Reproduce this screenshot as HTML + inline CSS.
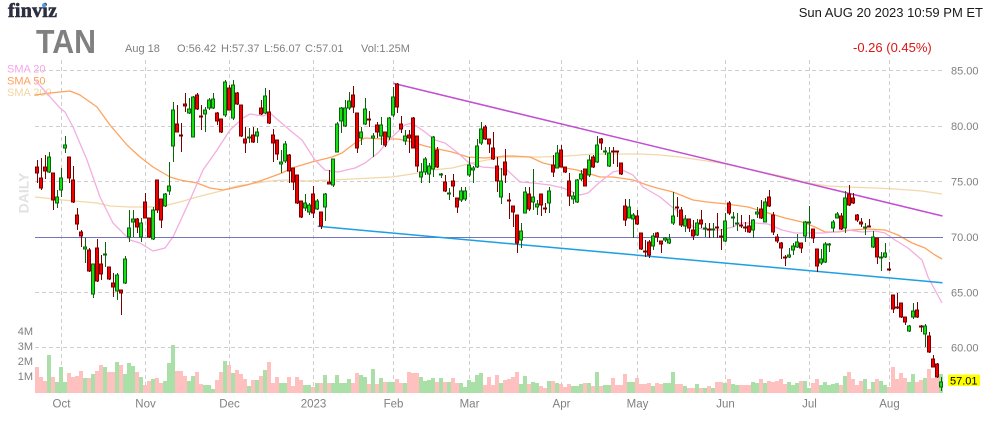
<!DOCTYPE html>
<html><head><meta charset="utf-8"><style>
html,body{margin:0;padding:0;background:#fff;}
body{width:991px;height:422px;overflow:hidden;}
svg{display:block;font-family:"Liberation Sans",Arial,sans-serif;}
</style></head><body>
<svg width="991" height="422" viewBox="0 0 991 422" xmlns="http://www.w3.org/2000/svg">
<rect width="991" height="422" fill="#fff"/>
<!-- header -->
<text x="8" y="17" font-family="'Liberation Serif',serif" font-size="20" font-weight="bold" fill="#2b2f3f" stroke="#2b2f3f" stroke-width="0.6" textLength="49">finviz</text>
<circle cx="44" cy="5.2" r="2" fill="#4a9fe8"/>
<text x="36" y="53" font-size="33" font-weight="bold" fill="#808080" textLength="60" lengthAdjust="spacingAndGlyphs">TAN</text>
<g font-size="11" fill="#7f7f7f">
<text x="125" y="52">Aug 18</text>
<text x="177" y="52">O:56.42</text>
<text x="221" y="52">H:57.37</text>
<text x="264" y="52">L:56.07</text>
<text x="305" y="52">C:57.01</text>
<text x="361" y="52">Vol:1.25M</text>
</g>
<text x="983" y="17" font-size="13" fill="#1a1a1a" text-anchor="end">Sun AUG 20 2023 10:59 PM ET</text>
<text x="853" y="52" font-size="13" fill="#dd1515">-0.26 (0.45%)</text>
<text x="7" y="72.5" font-size="11" fill="#f3a6e6">SMA 20</text>
<text x="7" y="84.5" font-size="11" fill="#ffa05a">SMA 50</text>
<text x="7" y="96" font-size="11" fill="#f2d6a2">SMA 200</text>
<text transform="translate(28.3,193) rotate(-90)" font-size="14" font-weight="bold" fill="#e2e2e2" text-anchor="middle">DAILY</text>

<!-- grid -->
<g stroke="#cfcfcf" stroke-width="1" stroke-dasharray="4,3" fill="none">
<path d="M35 70.5H943M35 126.5H943M35 181.5H943M35 292.5H943M35 347.5H943"/>
<path d="M61.5 60V393M145.5 60V393M229.5 60V393M313.5 60V393M393.5 60V393M469.5 60V393M561.5 60V393M637.5 60V393M725.5 60V393M809.5 60V393M889.5 60V393"/>
</g>

<!-- volume -->
<path fill="#ffc0c0" d="M35 367h4V393h-4zM39 377h4V393h-4zM43 381h4V393h-4zM51 377h4V393h-4zM67 373h4V393h-4zM71 377h4V393h-4zM75 376h4V393h-4zM79 371h4V393h-4zM87 378h4V393h-4zM95 371h4V393h-4zM99 365h4V393h-4zM107 372h4V393h-4zM111 372h4V393h-4zM119 365h4V393h-4zM135 372h4V393h-4zM143 385h4V393h-4zM147 381h4V393h-4zM155 378h4V393h-4zM159 383h4V393h-4zM175 371h4V393h-4zM179 371h4V393h-4zM183 376h4V393h-4zM195 372h4V393h-4zM199 384h4V393h-4zM215 380h4V393h-4zM219 372h4V393h-4zM227 365h4V393h-4zM235 370h4V393h-4zM239 374h4V393h-4zM243 379h4V393h-4zM251 380h4V393h-4zM259 376h4V393h-4zM267 362h4V393h-4zM271 383h4V393h-4zM275 377h4V393h-4zM287 377h4V393h-4zM291 386h4V393h-4zM295 377h4V393h-4zM299 380h4V393h-4zM311 387h4V393h-4zM319 383h4V393h-4zM327 383h4V393h-4zM351 383h4V393h-4zM355 373h4V393h-4zM367 384h4V393h-4zM375 384h4V393h-4zM383 382h4V393h-4zM395 379h4V393h-4zM399 383h4V393h-4zM407 372h4V393h-4zM411 373h4V393h-4zM415 373h4V393h-4zM435 382h4V393h-4zM443 382h4V393h-4zM451 378h4V393h-4zM455 383h4V393h-4zM483 385h4V393h-4zM487 377h4V393h-4zM491 385h4V393h-4zM495 375h4V393h-4zM503 380h4V393h-4zM507 379h4V393h-4zM511 377h4V393h-4zM515 372h4V393h-4zM527 384h4V393h-4zM539 386h4V393h-4zM543 388h4V393h-4zM551 381h4V393h-4zM559 384h4V393h-4zM563 387h4V393h-4zM567 384h4V393h-4zM583 383h4V393h-4zM591 386h4V393h-4zM599 386h4V393h-4zM611 378h4V393h-4zM615 385h4V393h-4zM619 385h4V393h-4zM623 374h4V393h-4zM635 378h4V393h-4zM639 384h4V393h-4zM643 384h4V393h-4zM647 383h4V393h-4zM655 383h4V393h-4zM659 384h4V393h-4zM675 384h4V393h-4zM679 384h4V393h-4zM687 388h4V393h-4zM691 388h4V393h-4zM699 388h4V393h-4zM707 386h4V393h-4zM715 382h4V393h-4zM719 382h4V393h-4zM727 379h4V393h-4zM739 385h4V393h-4zM743 385h4V393h-4zM747 385h4V393h-4zM759 379h4V393h-4zM767 381h4V393h-4zM771 382h4V393h-4zM775 381h4V393h-4zM779 379h4V393h-4zM783 384h4V393h-4zM799 381h4V393h-4zM811 383h4V393h-4zM815 379h4V393h-4zM839 385h4V393h-4zM847 372h4V393h-4zM851 379h4V393h-4zM855 385h4V393h-4zM859 381h4V393h-4zM867 389h4V393h-4zM875 379h4V393h-4zM887 387h4V393h-4zM891 367h4V393h-4zM895 379h4V393h-4zM899 373h4V393h-4zM903 378h4V393h-4zM915 382h4V393h-4zM919 380h4V393h-4zM927 369h4V393h-4zM931 378h4V393h-4zM935 378h4V393h-4z"/>
<path fill="#aadfa8" d="M47 355h4V393h-4zM55 382h4V393h-4zM59 367h4V393h-4zM63 382h4V393h-4zM83 378h4V393h-4zM91 374h4V393h-4zM103 367h4V393h-4zM115 362h4V393h-4zM123 374h4V393h-4zM127 363h4V393h-4zM131 366h4V393h-4zM139 377h4V393h-4zM151 379h4V393h-4zM163 381h4V393h-4zM167 363h4V393h-4zM171 345h4V393h-4zM187 381h4V393h-4zM191 376h4V393h-4zM203 385h4V393h-4zM207 385h4V393h-4zM211 389h4V393h-4zM223 361h4V393h-4zM231 373h4V393h-4zM247 386h4V393h-4zM255 380h4V393h-4zM263 370h4V393h-4zM279 383h4V393h-4zM283 383h4V393h-4zM303 385h4V393h-4zM307 385h4V393h-4zM315 383h4V393h-4zM323 375h4V393h-4zM331 383h4V393h-4zM335 375h4V393h-4zM339 383h4V393h-4zM343 383h4V393h-4zM347 379h4V393h-4zM359 375h4V393h-4zM363 377h4V393h-4zM371 369h4V393h-4zM379 378h4V393h-4zM387 382h4V393h-4zM391 382h4V393h-4zM403 383h4V393h-4zM419 377h4V393h-4zM423 381h4V393h-4zM427 380h4V393h-4zM431 378h4V393h-4zM439 378h4V393h-4zM447 382h4V393h-4zM459 383h4V393h-4zM463 387h4V393h-4zM467 380h4V393h-4zM471 382h4V393h-4zM475 375h4V393h-4zM479 373h4V393h-4zM499 383h4V393h-4zM519 384h4V393h-4zM523 376h4V393h-4zM531 382h4V393h-4zM535 383h4V393h-4zM547 381h4V393h-4zM555 383h4V393h-4zM571 386h4V393h-4zM575 386h4V393h-4zM579 384h4V393h-4zM587 383h4V393h-4zM595 372h4V393h-4zM603 385h4V393h-4zM607 385h4V393h-4zM627 382h4V393h-4zM631 382h4V393h-4zM651 386h4V393h-4zM663 383h4V393h-4zM667 383h4V393h-4zM671 372h4V393h-4zM683 386h4V393h-4zM695 384h4V393h-4zM703 388h4V393h-4zM711 388h4V393h-4zM723 383h4V393h-4zM731 384h4V393h-4zM735 385h4V393h-4zM751 382h4V393h-4zM755 383h4V393h-4zM763 383h4V393h-4zM787 382h4V393h-4zM791 385h4V393h-4zM795 383h4V393h-4zM803 381h4V393h-4zM807 388h4V393h-4zM819 385h4V393h-4zM823 382h4V393h-4zM827 385h4V393h-4zM831 384h4V393h-4zM835 383h4V393h-4zM843 376h4V393h-4zM863 379h4V393h-4zM871 382h4V393h-4zM879 381h4V393h-4zM883 385h4V393h-4zM907 382h4V393h-4zM911 374h4V393h-4zM923 378h4V393h-4zM939 374h4V393h-4z"/>

<!-- SMAs -->
<g fill="none" stroke-width="1.3" stroke-linejoin="round">
<polyline stroke="#f2d8a8" points="35,197 63,200 97,203 110,206 130,207 150,207 163,206 180,202 197,197 217,192 237,186 257,183 270,181 285,180 305,181 332,180 352,179 372,178 392,177 412,174 432,170 452,168 472,163 492,159 505,157 520,157 540,157 567,156 593,154 620,154 640,154 660,155 680,157 700,160 720,163 740,167 762,172 785,177 808,183 828,186 848,187 875,188 895,189 922,191 942,194"/>
<polyline stroke="#ffa35e" points="35,95 50,93 70,91 80,95 97,107 110,125 127,145 140,157 153,167 170,177 180,180 197,183 210,188 223,190 233,188 247,185 263,180 282,173 292,168 312,162 332,157 342,153 355,143 365,138 382,139 398,139 412,142 425,146 438,149 452,152 468,157 485,158 505,156 513,156 530,157 543,163 560,167 577,170 587,173 600,177 613,177 627,179 633,180 647,185 657,188 673,192 693,200 707,202 727,204 748,207 768,213 785,218 802,222 815,227 825,232 838,232 852,230 868,229 885,230 898,235 912,243 925,248 935,255 942,259"/>
<polyline stroke="#f4addf" points="35,80 60,108 65,112 73,127 87,160 100,197 113,223 130,240 140,243 153,251 165,248 173,237 190,200 203,170 217,150 230,130 243,118 250,114 263,116 270,113 278,120 292,132 302,140 315,160 325,170 338,172 355,168 365,163 378,153 392,137 405,125 412,123 425,132 435,140 445,143 458,153 468,162 482,167 495,168 507,170 520,182 533,183 550,185 563,188 580,195 588,193 600,182 613,172 622,170 633,175 643,187 660,197 672,207 682,215 693,227 707,230 720,230 733,227 740,223 755,223 768,224 782,230 795,233 808,233 822,233 835,232 848,230 862,232 875,231 885,233 895,240 908,248 922,260 928,277 935,290 942,303"/>
</g>

<!-- lines -->
<path d="M35 237.5H943" stroke="#7474bc" stroke-width="1"/>
<path d="M393.5 83.4L942.5 216" stroke="#c24ed2" stroke-width="1.5"/>
<path d="M317.7 226.3L942.5 282.7" stroke="#1d9fe2" stroke-width="1.5"/>

<!-- red candles -->
<path fill="none" stroke="#7a0000" stroke-width="1" d="M37.5 160V183M41.5 158V190M45.5 155V179M53.5 173V210M69.5 157V183M73.5 166V203M77.5 208V230M81.5 230V247M89.5 248V272M97.5 239V282M101.5 255V280M109.5 267V280M113.5 273V297M121.5 290V315M137.5 218V233M145.5 193V218M149.5 218V238M157.5 180V213M161.5 199V228M177.5 105V132M181.5 123V152M185.5 93V112M197.5 93V110M201.5 105V130M217.5 112V125M221.5 119V133M229.5 85V110M237.5 92V105M241.5 105V137M245.5 127V153M253.5 127V143M261.5 100V115M269.5 90V124M273.5 129V162M277.5 140V160M289.5 154V183M293.5 168V190M297.5 175V204M301.5 201V218M313.5 186V218M321.5 212V229M329.5 170V184M353.5 86V113M357.5 113V153M369.5 111V127M377.5 122V138M385.5 132V147M397.5 83V113M401.5 116V133M409.5 130V153M413.5 117V148M417.5 136V172M437.5 147V168M445.5 175V192M453.5 174V197M457.5 198V213M485.5 125V140M489.5 139V153M493.5 132V160M497.5 157V192M505.5 149V183M509.5 193V219M513.5 206V227M517.5 215V253M529.5 187V211M541.5 194V216M545.5 203V213M553.5 155V177M561.5 145V167M565.5 167V173M569.5 173V206M585.5 169V186M593.5 155V168M601.5 138V150M613.5 147V164M617.5 151V167M621.5 163V175M625.5 199V226M637.5 210V225M641.5 233V250M645.5 240V257M649.5 240V258M657.5 232V242M661.5 241V253M677.5 197V217M681.5 207V227M689.5 219V232M693.5 220V240M701.5 210V228M709.5 223V238M717.5 213V238M721.5 229V250M729.5 201V215M741.5 215V228M745.5 222V232M749.5 215V233M761.5 200V219M769.5 190V207M773.5 212V235M777.5 234V243M781.5 242V259M785.5 255V266M801.5 243V253M813.5 229V243M817.5 249V272M841.5 213V230M849.5 185V206M853.5 193V204M857.5 214V222M861.5 218V227M869.5 219V227M877.5 238V264M889.5 262V271M893.5 295V313M897.5 293V309M901.5 303V318M905.5 317V325M917.5 302V318M921.5 325V332M929.5 332V353M933.5 355V367M937.5 363V378"/>
<path fill="#f00000" stroke="#7a0000" stroke-width="1" d="M35.5 167h3v6h-3zM39.5 178h3v10h-3zM43.5 167h3v4h-3zM51.5 173h3v27h-3zM67.5 157h3v21h-3zM71.5 180h3v22h-3zM75.5 215h3v9h-3zM79.5 232h3v4h-3zM87.5 250h3v21h-3zM95.5 248h3v33h-3zM99.5 264h3v10h-3zM107.5 267h3v12h-3zM111.5 283h3v4h-3zM119.5 290h3v3h-3zM135.5 219h3v8h-3zM143.5 202h3v16h-3zM147.5 218h3v19h-3zM155.5 180h3v30h-3zM159.5 199h3v21h-3zM175.5 124h3v8h-3zM179.5 135h3v1h-3zM183.5 104h3v2h-3zM195.5 95h3v14h-3zM199.5 116h3v1h-3zM215.5 113h3v8h-3zM219.5 119h3v13h-3zM227.5 88h3v22h-3zM235.5 93h3v11h-3zM239.5 105h3v31h-3zM243.5 139h3v4h-3zM251.5 135h3v7h-3zM259.5 108h3v6h-3zM267.5 112h3v11h-3zM271.5 135h3v8h-3zM275.5 140h3v14h-3zM287.5 155h3v16h-3zM291.5 168h3v14h-3zM295.5 175h3v28h-3zM299.5 201h3v16h-3zM311.5 194h3v19h-3zM319.5 212h3v14h-3zM327.5 182h3v2h-3zM351.5 95h3v12h-3zM355.5 113h3v35h-3zM367.5 119h3v1h-3zM375.5 125h3v7h-3zM383.5 132h3v13h-3zM395.5 84h3v23h-3zM399.5 124h3v5h-3zM407.5 135h3v3h-3zM411.5 118h3v30h-3zM415.5 136h3v30h-3zM435.5 150h3v17h-3zM443.5 182h3v9h-3zM451.5 181h3v5h-3zM455.5 198h3v9h-3zM483.5 127h3v12h-3zM487.5 139h3v5h-3zM491.5 148h3v11h-3zM495.5 166h3v15h-3zM503.5 162h3v13h-3zM507.5 200h3v1h-3zM511.5 206h3v6h-3zM515.5 215h3v28h-3zM527.5 194h3v15h-3zM539.5 194h3v11h-3zM543.5 208h3v1h-3zM551.5 165h3v7h-3zM559.5 150h3v17h-3zM563.5 167h3v5h-3zM567.5 181h3v15h-3zM583.5 169h3v17h-3zM591.5 157h3v10h-3zM599.5 139h3v4h-3zM611.5 151h3v1h-3zM615.5 151h3v1h-3zM619.5 163h3v11h-3zM623.5 206h3v14h-3zM635.5 216h3v8h-3zM639.5 233h3v16h-3zM643.5 251h3v1h-3zM647.5 242h3v13h-3zM655.5 233h3v4h-3zM659.5 241h3v3h-3zM675.5 207h3v1h-3zM679.5 210h3v15h-3zM687.5 219h3v9h-3zM691.5 230h3v6h-3zM699.5 220h3v4h-3zM707.5 229h3v1h-3zM715.5 227h3v1h-3zM719.5 236h3v1h-3zM727.5 203h3v10h-3zM739.5 225h3v1h-3zM743.5 227h3v1h-3zM747.5 226h3v6h-3zM759.5 209h3v9h-3zM767.5 197h3v9h-3zM771.5 215h3v17h-3zM775.5 237h3v4h-3zM779.5 243h3v5h-3zM783.5 257h3v1h-3zM799.5 243h3v5h-3zM811.5 229h3v9h-3zM815.5 249h3v17h-3zM839.5 216h3v13h-3zM847.5 194h3v11h-3zM851.5 198h3v5h-3zM855.5 215h3v5h-3zM859.5 222h3v2h-3zM867.5 226h3v1h-3zM875.5 238h3v19h-3zM887.5 269h3v1h-3zM891.5 295h3v14h-3zM895.5 307h3v1h-3zM899.5 303h3v14h-3zM903.5 317h3v5h-3zM915.5 310h3v7h-3zM919.5 326h3v1h-3zM927.5 336h3v16h-3zM931.5 359h3v8h-3zM935.5 364h3v13h-3z"/>

<!-- green candles -->
<path fill="none" stroke="#0b640b" stroke-width="1" d="M49.5 152V173M57.5 190V208M61.5 168V197M65.5 136V153M85.5 238V263M93.5 264V298M105.5 242V267M117.5 273V300M125.5 256V284M129.5 210V242M133.5 210V237M141.5 218V242M153.5 207V240M165.5 193V207M169.5 162V195M173.5 102V162M189.5 98V114M193.5 96V137M205.5 107V132M209.5 98V110M213.5 93V109M225.5 80V117M233.5 80V120M249.5 128V143M257.5 128V143M265.5 88V114M281.5 150V173M285.5 141V163M305.5 194V211M309.5 203V215M317.5 199V210M325.5 193V221M333.5 159V187M337.5 122V152M341.5 107V133M345.5 100V127M349.5 92V110M361.5 127V145M365.5 98V125M373.5 133V157M381.5 117V145M389.5 117V140M393.5 87V117M405.5 130V145M421.5 163V183M425.5 157V175M429.5 163V183M433.5 136V177M441.5 173V178M449.5 188V200M461.5 187V202M465.5 187V201M469.5 157V177M473.5 166V183M477.5 139V168M481.5 122V145M501.5 168V204M521.5 223V248M525.5 187V213M533.5 169V210M537.5 200V215M549.5 187V213M557.5 145V168M573.5 192V204M577.5 179V203M581.5 170V181M589.5 155V177M597.5 136V163M605.5 147V155M609.5 147V167M629.5 199V218M633.5 213V238M653.5 233V250M665.5 237V242M669.5 234V244M673.5 192V225M685.5 215V232M697.5 219V236M705.5 223V237M713.5 223V238M725.5 213V242M733.5 212V227M737.5 213V231M753.5 219V238M757.5 207V218M765.5 198V222M789.5 248V258M793.5 243V255M797.5 234V248M805.5 221V242M809.5 206V238M821.5 249V265M825.5 242V263M829.5 243V252M833.5 220V232M837.5 212V218M845.5 191V233M865.5 223V235M873.5 231V248M881.5 252V271M885.5 243V258M909.5 325V332M913.5 303V319M925.5 324V347M941.5 377V391"/>
<path fill="#14e014" stroke="#0b640b" stroke-width="1" d="M47.5 157h3v15h-3zM55.5 197h3v6h-3zM59.5 178h3v12h-3zM63.5 145h3v3h-3zM83.5 247h3v2h-3zM91.5 264h3v30h-3zM103.5 254h3v1h-3zM115.5 275h3v16h-3zM123.5 259h3v24h-3zM127.5 228h3v9h-3zM131.5 219h3v3h-3zM139.5 223h3v14h-3zM151.5 210h3v29h-3zM163.5 194h3v12h-3zM167.5 186h3v5h-3zM171.5 110h3v36h-3zM187.5 109h3v4h-3zM191.5 97h3v40h-3zM203.5 110h3v4h-3zM207.5 100h3v8h-3zM211.5 99h3v9h-3zM223.5 82h3v33h-3zM231.5 85h3v33h-3zM247.5 137h3v1h-3zM255.5 132h3v4h-3zM263.5 96h3v17h-3zM279.5 162h3v2h-3zM283.5 144h3v17h-3zM303.5 203h3v5h-3zM307.5 205h3v7h-3zM315.5 201h3v8h-3zM323.5 194h3v13h-3zM331.5 159h3v26h-3zM335.5 124h3v28h-3zM339.5 108h3v13h-3zM343.5 108h3v18h-3zM347.5 101h3v7h-3zM359.5 132h3v6h-3zM363.5 109h3v15h-3zM371.5 136h3v2h-3zM379.5 125h3v11h-3zM387.5 118h3v19h-3zM391.5 97h3v18h-3zM403.5 136h3v5h-3zM419.5 172h3v5h-3zM423.5 159h3v13h-3zM427.5 166h3v8h-3zM431.5 137h3v32h-3zM439.5 174h3v1h-3zM447.5 193h3v1h-3zM459.5 191h3v9h-3zM463.5 191h3v8h-3zM467.5 165h3v10h-3zM471.5 168h3v2h-3zM475.5 146h3v21h-3zM479.5 129h3v14h-3zM499.5 181h3v16h-3zM519.5 231h3v9h-3zM523.5 192h3v21h-3zM531.5 197h3v5h-3zM535.5 204h3v3h-3zM547.5 191h3v12h-3zM555.5 153h3v15h-3zM571.5 196h3v3h-3zM575.5 180h3v22h-3zM579.5 174h3v5h-3zM587.5 160h3v15h-3zM595.5 145h3v17h-3zM603.5 151h3v1h-3zM607.5 153h3v13h-3zM627.5 207h3v11h-3zM631.5 215h3v4h-3zM651.5 236h3v10h-3zM663.5 238h3v2h-3zM667.5 239h3v4h-3zM671.5 216h3v7h-3zM683.5 219h3v7h-3zM695.5 223h3v12h-3zM703.5 228h3v1h-3zM711.5 229h3v1h-3zM723.5 221h3v20h-3zM731.5 217h3v1h-3zM735.5 223h3v1h-3zM751.5 220h3v10h-3zM755.5 212h3v2h-3zM763.5 202h3v20h-3zM787.5 255h3v2h-3zM791.5 246h3v4h-3zM795.5 242h3v5h-3zM803.5 222h3v14h-3zM807.5 222h3v1h-3zM819.5 259h3v4h-3zM823.5 244h3v18h-3zM827.5 244h3v1h-3zM831.5 222h3v6h-3zM835.5 214h3v4h-3zM843.5 198h3v30h-3zM863.5 227h3v1h-3zM871.5 237h3v10h-3zM879.5 257h3v1h-3zM883.5 253h3v4h-3zM907.5 326h3v5h-3zM911.5 311h3v6h-3zM923.5 326h3v8h-3zM939.5 382h3v5h-3z"/>

<!-- right axis -->
<g font-size="11" fill="#808080">
<text x="951" y="74.5">85.00</text>
<text x="951" y="130">80.00</text>
<text x="951" y="185.5">75.00</text>
<text x="951" y="241">70.00</text>
<text x="951" y="296.5">65.00</text>
<text x="951" y="351.5">60.00</text>
</g>
<rect x="948" y="374.5" width="32" height="11.5" fill="#ffff00"/>
<text x="950" y="384.5" font-size="11" fill="#000">57.01</text>

<!-- volume axis -->
<g font-size="11" fill="#808080" text-anchor="end">
<text x="33" y="335">4M</text>
<text x="33" y="350">3M</text>
<text x="33" y="365">2M</text>
<text x="33" y="380">1M</text>
</g>

<!-- month labels -->
<g font-size="11.5" fill="#808080" text-anchor="middle">
<text x="61.5" y="407.5">Oct</text>
<text x="145.5" y="407.5">Nov</text>
<text x="229.5" y="407.5">Dec</text>
<text x="313.5" y="407.5">2023</text>
<text x="393.5" y="407.5">Feb</text>
<text x="469.5" y="407.5">Mar</text>
<text x="561.5" y="407.5">Apr</text>
<text x="637.5" y="407.5">May</text>
<text x="725.5" y="407.5">Jun</text>
<text x="809.5" y="407.5">Jul</text>
<text x="889.5" y="407.5">Aug</text>
</g>
</svg>
</body></html>
